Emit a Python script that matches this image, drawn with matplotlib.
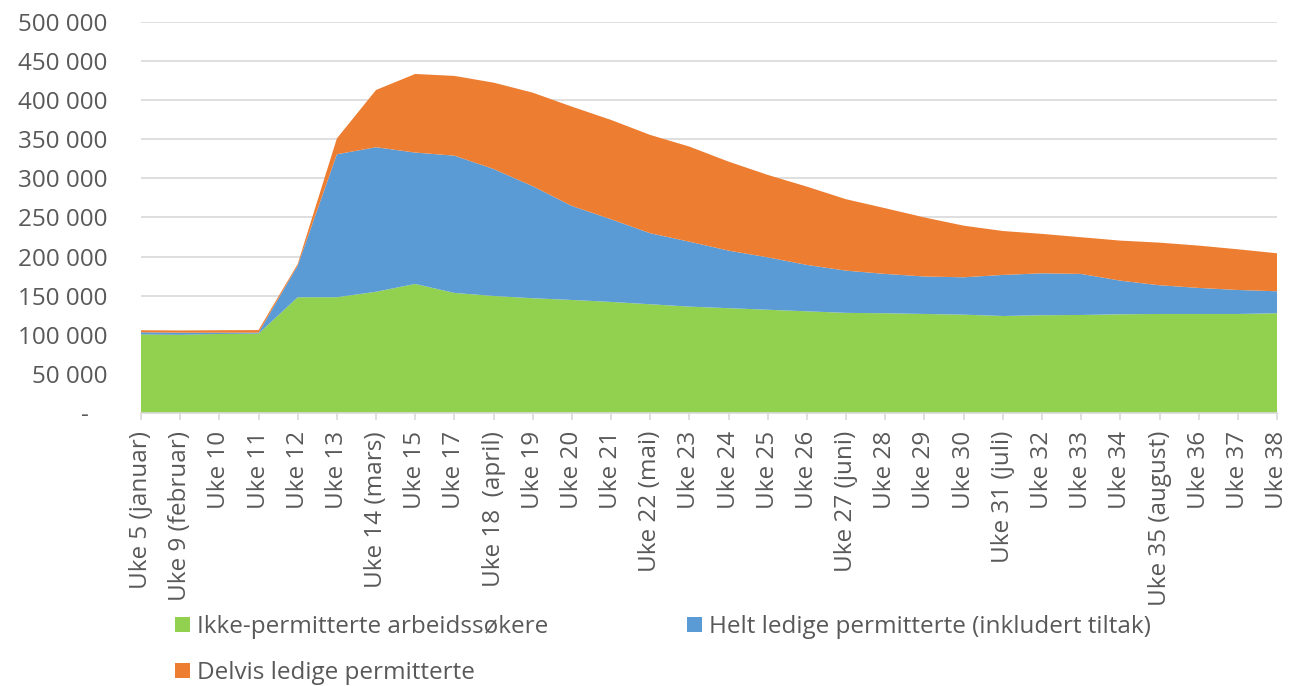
import matplotlib.pyplot as plt
import numpy as np

weeks = ["Uke 5 (januar)", "Uke 9 (februar)", "Uke 10", "Uke 11", "Uke 12", "Uke 13",
         "Uke 14 (mars)", "Uke 15", "Uke 17", "Uke 18  (april)", "Uke 19", "Uke 20",
         "Uke 21", "Uke 22 (mai)", "Uke 23", "Uke 24", "Uke 25", "Uke 26",
         "Uke 27 (juni)", "Uke 28", "Uke 29", "Uke 30", "Uke 31 (juli)", "Uke 32",
         "Uke 33", "Uke 34", "Uke 35 (august)", "Uke 36", "Uke 37", "Uke 38"]

ikke_perm = [100500, 100000, 101000, 101400, 148000, 148000, 155000, 165000, 153500, 149600,
             146700, 144500, 142000, 139000, 136000, 134000, 132000, 130000, 128000, 127500,
             126600, 125700, 124000, 125000, 125300, 126200, 126600, 126600, 126600, 127500]
helt_ledige = [2700, 2700, 1700, 1300, 40400, 182800, 184800, 168000, 175500, 162400,
               143300, 120200, 105700, 90800, 83000, 73600, 67000, 59300, 54000, 50300,
               47900, 47800, 52500, 53600, 52500, 43000, 36700, 33300, 30700, 28100]
delvis_ledige = [2600, 2800, 3100, 3300, 2100, 20200, 73200, 100500, 102000, 110400,
                 119600, 127000, 127000, 125700, 121600, 113800, 105400, 100100, 91300, 84000,
                 75500, 66000, 56200, 50400, 46900, 51200, 54500, 54100, 52000, 48600]

names = ["Ikke-permitterte arbeidssøkere", "Helt ledige permitterte (inkludert tiltak)",
         "Delvis ledige permitterte"]
colors = ["#92d050", "#5b9bd5", "#ed7d31"]

plt.rcParams['font.family'] = ['Open Sans', 'DejaVu Sans']
txt = "#595959"
fs = 17.5

fig = plt.figure(figsize=(12.91, 6.86), dpi=100)
ax = fig.add_axes([0.1092, 0.398, 0.88, 0.570])

x = np.arange(len(weeks))
polys = ax.stackplot(x, ikke_perm, helt_ledige, delvis_ledige, colors=colors,
                     labels=names, linewidth=0)

ax.set_xlim(0, len(weeks) - 1)
ax.set_ylim(0, 500000)
yt = np.arange(0, 500001, 50000)
ax.set_yticks(yt)
ax.set_yticklabels(["-   "] + [f"{v:,}".replace(",", " ") for v in yt[1:]])
ax.set_xticks(x)
ax.set_xticklabels(weeks, rotation=90)

ax.grid(axis="y", color="#d9d9d9", linewidth=1.2)
ax.set_axisbelow(True)
for s in ["left", "right", "top"]:
    ax.spines[s].set_visible(False)
ax.spines["bottom"].set_color("#d9d9d9")
ax.spines["bottom"].set_linewidth(1.2)
ax.tick_params(axis="y", length=0, pad=24, labelsize=fs, labelcolor=txt)
ax.tick_params(axis="x", length=5, width=1.2, color="#d9d9d9", pad=8,
               labelsize=fs, labelcolor=txt)

# row-major order like the original: green, blue / orange
order = [0, 2, 1]
fig.legend([polys[i] for i in order], [names[i] for i in order],
           loc="upper left", bbox_to_anchor=(0.1355, 0.103), ncol=2, frameon=False,
           fontsize=fs, labelcolor=txt, handlelength=0.62, handleheight=0.58,
           handletextpad=0.3, columnspacing=5.7, labelspacing=0.88, borderaxespad=0,
           borderpad=0)

fig.savefig("out.png", dpi=100)
